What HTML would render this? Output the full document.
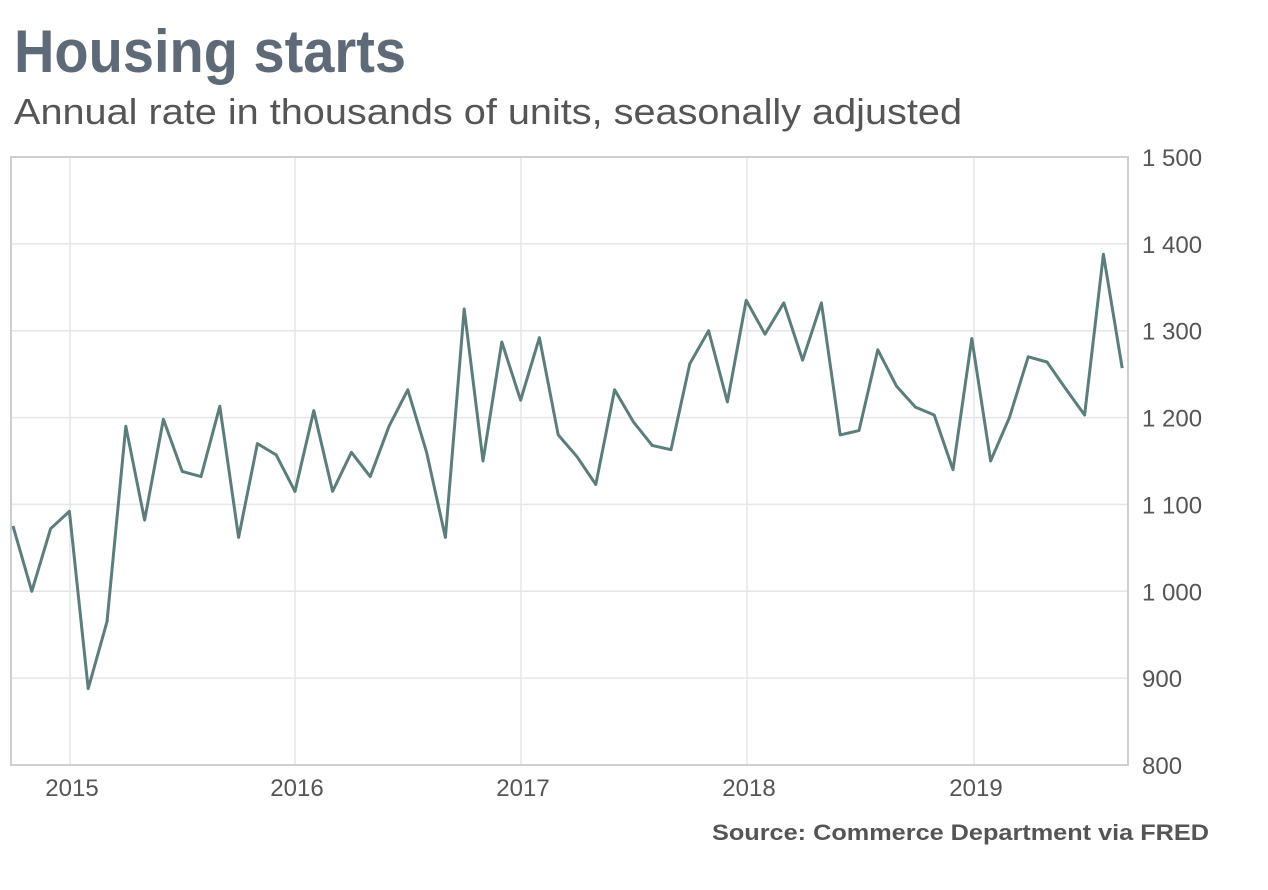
<!DOCTYPE html>
<html><head><meta charset="utf-8"><style>
html,body{margin:0;padding:0;background:#fff;}
svg{display:block;}
</style></head><body>
<svg id="c" width="1268" height="890" xmlns="http://www.w3.org/2000/svg" font-family="Liberation Sans, sans-serif">
<text x="14" y="72" font-size="60" font-weight="bold" fill="#5f6a78" textLength="392" lengthAdjust="spacingAndGlyphs">Housing starts</text>
<text x="14" y="124" font-size="36" fill="#555" textLength="948" lengthAdjust="spacingAndGlyphs">Annual rate in thousands of units, seasonally adjusted</text>
<g id="grid" stroke="#e6e6e6" stroke-width="1.5"></g>
<rect x="11" y="157" width="1117" height="608" fill="none" stroke="#cfcfcf" stroke-width="2"/>
<g id="lab" font-size="24" fill="#555"></g>
<polyline id="ln" fill="none" stroke="#5b7d7b" stroke-width="3" stroke-linejoin="round"/>
<text x="712" y="840" font-size="22" font-weight="bold" fill="#555" textLength="497" lengthAdjust="spacingAndGlyphs">Source: Commerce Department via FRED</text>
</svg>
<script>
var d=[1075,1000,1072,1092,888,965,1190,1082,1198,1138,1132,1213,1062,1170,1157,1115,1208,1115,1160,1132,1190,1232,1160,1062,1325,1150,1287,1220,1292,1180,1155,1123,1232,1195,1168,1163,1262,1300,1218,1335,1296,1332,1266,1332,1180,1185,1278,1236,1212,1203,1140,1291,1150,1200,1270,1264,1233,1203,1388,1257];
function Y(v){return 765-(v-800)*608/700;}
var g=document.getElementById('grid'),l=document.getElementById('lab'),ns='http://www.w3.org/2000/svg';
for(var v=900;v<=1400;v+=100){var e=document.createElementNS(ns,'line');e.setAttribute('x1',11);e.setAttribute('x2',1128);e.setAttribute('y1',Y(v));e.setAttribute('y2',Y(v));g.appendChild(e);}
for(var v=800;v<=1500;v+=100){var t=document.createElementNS(ns,'text');t.setAttribute('x',1142);t.setAttribute('y',Y(v)+9);t.textContent=v>=1000?(Math.floor(v/1000)+' '+String(v%1000).padStart(3,'0')):v;l.appendChild(t);}
var yx=[70,295,521,747,974];
yx.forEach(function(x,i){var e=document.createElementNS(ns,'line');e.setAttribute('x1',x);e.setAttribute('x2',x);e.setAttribute('y1',157);e.setAttribute('y2',765);g.appendChild(e);
var t=document.createElementNS(ns,'text');t.setAttribute('x',x+2);t.setAttribute('y',796);t.setAttribute('text-anchor','middle');t.textContent=2015+i;l.appendChild(t);});
var p=d.map(function(v,i){return (13+i*18.8).toFixed(1)+','+Y(v).toFixed(1);}).join(' ');
document.getElementById('ln').setAttribute('points',p);
</script>
</body></html>
